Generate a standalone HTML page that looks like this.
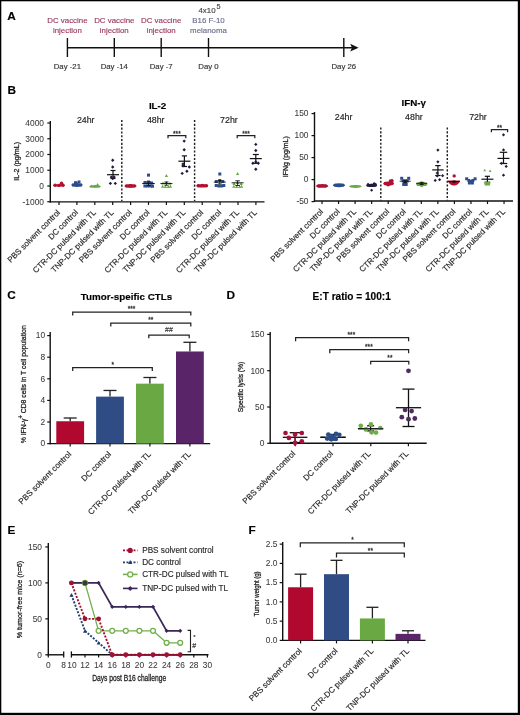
<!DOCTYPE html>
<html><head><meta charset="utf-8"><style>html,body{margin:0;padding:0;background:#fff;width:520px;height:715px;overflow:hidden}</style></head>
<body>
<svg width="520" height="715" viewBox="0 0 520 715" style="display:block;filter:blur(0.3px)">
<g font-family='"Liberation Sans", sans-serif'>
<rect x="0" y="0" width="520" height="715" fill="#000"/>
<rect x="1.3" y="1.3" width="516.5" height="711.5" fill="#fff"/>
<text x="7.30" y="20.40" font-size="11.8" text-anchor="start" fill="#000" font-weight="bold" stroke="#000" stroke-width="0.15" >A</text>
<text x="7.60" y="93.80" font-size="11.8" text-anchor="start" fill="#000" font-weight="bold" stroke="#000" stroke-width="0.15" >B</text>
<text x="7.30" y="299.40" font-size="11.8" text-anchor="start" fill="#000" font-weight="bold" stroke="#000" stroke-width="0.15" >C</text>
<text x="226.60" y="299.20" font-size="11.8" text-anchor="start" fill="#000" font-weight="bold" stroke="#000" stroke-width="0.15" >D</text>
<text x="7.60" y="533.80" font-size="11.8" text-anchor="start" fill="#000" font-weight="bold" stroke="#000" stroke-width="0.15" >E</text>
<text x="248.60" y="533.80" font-size="11.8" text-anchor="start" fill="#000" font-weight="bold" stroke="#000" stroke-width="0.15" >F</text>
<line x1="67.40" y1="47.70" x2="352.00" y2="47.70" stroke="#111" stroke-width="1.4" />
<path d="M350.2,43.8 L358.6,47.7 L350.2,51.6 L352,47.7Z" fill="#111"/>
<line x1="67.40" y1="38.00" x2="67.40" y2="57.00" stroke="#111" stroke-width="1.4" />
<text x="67.40" y="69.20" font-size="7.8" text-anchor="middle" fill="#333" font-weight="normal" stroke="#333" stroke-width="0.15" >Day -21</text>
<line x1="114.30" y1="38.00" x2="114.30" y2="57.00" stroke="#111" stroke-width="1.4" />
<text x="114.30" y="69.20" font-size="7.8" text-anchor="middle" fill="#333" font-weight="normal" stroke="#333" stroke-width="0.15" >Day -14</text>
<line x1="161.20" y1="38.00" x2="161.20" y2="57.00" stroke="#111" stroke-width="1.4" />
<text x="161.20" y="69.20" font-size="7.8" text-anchor="middle" fill="#333" font-weight="normal" stroke="#333" stroke-width="0.15" >Day -7</text>
<line x1="208.50" y1="38.00" x2="208.50" y2="57.00" stroke="#111" stroke-width="1.4" />
<text x="208.50" y="69.20" font-size="7.8" text-anchor="middle" fill="#333" font-weight="normal" stroke="#333" stroke-width="0.15" >Day 0</text>
<line x1="343.80" y1="38.00" x2="343.80" y2="57.00" stroke="#111" stroke-width="1.4" />
<text x="343.80" y="69.20" font-size="7.8" text-anchor="middle" fill="#333" font-weight="normal" stroke="#333" stroke-width="0.15" >Day 26</text>
<text x="67.40" y="23.00" font-size="7.9" text-anchor="middle" fill="#9c3d62" font-weight="normal" stroke="#9c3d62" stroke-width="0.15" >DC vaccine</text>
<text x="67.40" y="33.00" font-size="7.9" text-anchor="middle" fill="#9c3d62" font-weight="normal" stroke="#9c3d62" stroke-width="0.15" >injection</text>
<text x="114.30" y="23.00" font-size="7.9" text-anchor="middle" fill="#9c3d62" font-weight="normal" stroke="#9c3d62" stroke-width="0.15" >DC vaccine</text>
<text x="114.30" y="33.00" font-size="7.9" text-anchor="middle" fill="#9c3d62" font-weight="normal" stroke="#9c3d62" stroke-width="0.15" >injection</text>
<text x="161.20" y="23.00" font-size="7.9" text-anchor="middle" fill="#9c3d62" font-weight="normal" stroke="#9c3d62" stroke-width="0.15" >DC vaccine</text>
<text x="161.20" y="33.00" font-size="7.9" text-anchor="middle" fill="#9c3d62" font-weight="normal" stroke="#9c3d62" stroke-width="0.15" >injection</text>
<text x="207.00" y="13.00" font-size="7.9" text-anchor="middle" fill="#444" font-weight="normal" stroke="#444" stroke-width="0.15" >4x10</text>
<text x="218.50" y="9.20" font-size="7.2" text-anchor="middle" fill="#444" font-weight="normal" stroke="#444" stroke-width="0.15" >5</text>
<text x="208.50" y="23.00" font-size="7.9" text-anchor="middle" fill="#6a6f8e" font-weight="normal" stroke="#6a6f8e" stroke-width="0.15" >B16 F-10</text>
<text x="208.50" y="33.00" font-size="7.9" text-anchor="middle" fill="#6a6f8e" font-weight="normal" stroke="#6a6f8e" stroke-width="0.15" >melanoma</text>
<line x1="50.30" y1="121.00" x2="50.30" y2="202.50" stroke="#111" stroke-width="1.4" />
<line x1="49.70" y1="201.90" x2="264.50" y2="201.90" stroke="#111" stroke-width="1.4" />
<line x1="47.30" y1="123.00" x2="50.30" y2="123.00" stroke="#111" stroke-width="1.2" />
<text x="44.00" y="125.80" font-size="8.4" text-anchor="end" fill="#3a3a3a" font-weight="normal" stroke="#3a3a3a" stroke-width="0.05" >4000</text>
<line x1="47.30" y1="138.75" x2="50.30" y2="138.75" stroke="#111" stroke-width="1.2" />
<text x="44.00" y="141.55" font-size="8.4" text-anchor="end" fill="#3a3a3a" font-weight="normal" stroke="#3a3a3a" stroke-width="0.05" >3000</text>
<line x1="47.30" y1="154.50" x2="50.30" y2="154.50" stroke="#111" stroke-width="1.2" />
<text x="44.00" y="157.30" font-size="8.4" text-anchor="end" fill="#3a3a3a" font-weight="normal" stroke="#3a3a3a" stroke-width="0.05" >2000</text>
<line x1="47.30" y1="170.25" x2="50.30" y2="170.25" stroke="#111" stroke-width="1.2" />
<text x="44.00" y="173.05" font-size="8.4" text-anchor="end" fill="#3a3a3a" font-weight="normal" stroke="#3a3a3a" stroke-width="0.05" >1000</text>
<line x1="47.30" y1="186.00" x2="50.30" y2="186.00" stroke="#111" stroke-width="1.2" />
<text x="44.00" y="188.80" font-size="8.4" text-anchor="end" fill="#3a3a3a" font-weight="normal" stroke="#3a3a3a" stroke-width="0.05" >0</text>
<line x1="47.30" y1="201.75" x2="50.30" y2="201.75" stroke="#111" stroke-width="1.2" />
<text x="44.00" y="204.55" font-size="8.4" text-anchor="end" fill="#3a3a3a" font-weight="normal" stroke="#3a3a3a" stroke-width="0.05" >-1000</text>
<text transform="translate(19.00,161.40) rotate(-90)" font-size="7.6" text-anchor="middle" fill="#222" font-weight="normal" textLength="38.8" lengthAdjust="spacingAndGlyphs" stroke="#222" stroke-width="0.28">IL-2 (pg/mL)</text>
<text x="157.60" y="108.80" font-size="9.8" text-anchor="middle" fill="#000" font-weight="bold" stroke="#000" stroke-width="0.15" >IL-2</text>
<text x="85.70" y="122.90" font-size="8.8" text-anchor="middle" fill="#222" font-weight="normal" stroke="#222" stroke-width="0.15" >24hr</text>
<text x="155.70" y="122.90" font-size="8.8" text-anchor="middle" fill="#222" font-weight="normal" stroke="#222" stroke-width="0.15" >48hr</text>
<text x="228.90" y="122.90" font-size="8.8" text-anchor="middle" fill="#222" font-weight="normal" stroke="#222" stroke-width="0.15" >72hr</text>
<line x1="121.8" y1="120" x2="121.8" y2="201" stroke="#222" stroke-width="1.45" stroke-dasharray="2.1,1.7"/>
<line x1="194.6" y1="120" x2="194.6" y2="201" stroke="#222" stroke-width="1.45" stroke-dasharray="2.1,1.7"/>
<line x1="59.00" y1="201.90" x2="59.00" y2="204.90" stroke="#111" stroke-width="1.2" />
<line x1="76.90" y1="201.90" x2="76.90" y2="204.90" stroke="#111" stroke-width="1.2" />
<line x1="94.80" y1="201.90" x2="94.80" y2="204.90" stroke="#111" stroke-width="1.2" />
<line x1="112.70" y1="201.90" x2="112.70" y2="204.90" stroke="#111" stroke-width="1.2" />
<line x1="130.60" y1="201.90" x2="130.60" y2="204.90" stroke="#111" stroke-width="1.2" />
<line x1="148.50" y1="201.90" x2="148.50" y2="204.90" stroke="#111" stroke-width="1.2" />
<line x1="166.40" y1="201.90" x2="166.40" y2="204.90" stroke="#111" stroke-width="1.2" />
<line x1="184.30" y1="201.90" x2="184.30" y2="204.90" stroke="#111" stroke-width="1.2" />
<line x1="202.20" y1="201.90" x2="202.20" y2="204.90" stroke="#111" stroke-width="1.2" />
<line x1="220.10" y1="201.90" x2="220.10" y2="204.90" stroke="#111" stroke-width="1.2" />
<line x1="238.00" y1="201.90" x2="238.00" y2="204.90" stroke="#111" stroke-width="1.2" />
<line x1="255.90" y1="201.90" x2="255.90" y2="204.90" stroke="#111" stroke-width="1.2" />
<text transform="translate(60.60,213.10) rotate(-45)" font-size="8.1" text-anchor="end" fill="#222" font-weight="normal" stroke="#222" stroke-width="0.15">PBS solvent control</text>
<text transform="translate(78.50,213.10) rotate(-45)" font-size="8.1" text-anchor="end" fill="#222" font-weight="normal" stroke="#222" stroke-width="0.15">DC control</text>
<text transform="translate(96.40,213.10) rotate(-45)" font-size="8.1" text-anchor="end" fill="#222" font-weight="normal" stroke="#222" stroke-width="0.15">CTR-DC pulsed with TL</text>
<text transform="translate(114.30,213.10) rotate(-45)" font-size="8.1" text-anchor="end" fill="#222" font-weight="normal" stroke="#222" stroke-width="0.15">TNP-DC pulsed with TL</text>
<text transform="translate(132.20,213.10) rotate(-45)" font-size="8.1" text-anchor="end" fill="#222" font-weight="normal" stroke="#222" stroke-width="0.15">PBS solvent control</text>
<text transform="translate(150.10,213.10) rotate(-45)" font-size="8.1" text-anchor="end" fill="#222" font-weight="normal" stroke="#222" stroke-width="0.15">DC control</text>
<text transform="translate(168.00,213.10) rotate(-45)" font-size="8.1" text-anchor="end" fill="#222" font-weight="normal" stroke="#222" stroke-width="0.15">CTR-DC pulsed with TL</text>
<text transform="translate(185.90,213.10) rotate(-45)" font-size="8.1" text-anchor="end" fill="#222" font-weight="normal" stroke="#222" stroke-width="0.15">TNP-DC pulsed with TL</text>
<text transform="translate(203.80,213.10) rotate(-45)" font-size="8.1" text-anchor="end" fill="#222" font-weight="normal" stroke="#222" stroke-width="0.15">PBS solvent control</text>
<text transform="translate(221.70,213.10) rotate(-45)" font-size="8.1" text-anchor="end" fill="#222" font-weight="normal" stroke="#222" stroke-width="0.15">DC control</text>
<text transform="translate(239.60,213.10) rotate(-45)" font-size="8.1" text-anchor="end" fill="#222" font-weight="normal" stroke="#222" stroke-width="0.15">CTR-DC pulsed with TL</text>
<text transform="translate(257.50,213.10) rotate(-45)" font-size="8.1" text-anchor="end" fill="#222" font-weight="normal" stroke="#222" stroke-width="0.15">TNP-DC pulsed with TL</text>
<line x1="314.50" y1="112.00" x2="314.50" y2="201.60" stroke="#111" stroke-width="1.4" />
<line x1="313.90" y1="201.00" x2="513.00" y2="201.00" stroke="#111" stroke-width="1.4" />
<line x1="311.50" y1="113.60" x2="314.50" y2="113.60" stroke="#111" stroke-width="1.2" />
<text x="308.50" y="116.40" font-size="8.4" text-anchor="end" fill="#3a3a3a" font-weight="normal" stroke="#3a3a3a" stroke-width="0.05" >150</text>
<line x1="311.50" y1="135.60" x2="314.50" y2="135.60" stroke="#111" stroke-width="1.2" />
<text x="308.50" y="138.40" font-size="8.4" text-anchor="end" fill="#3a3a3a" font-weight="normal" stroke="#3a3a3a" stroke-width="0.05" >100</text>
<line x1="311.50" y1="157.60" x2="314.50" y2="157.60" stroke="#111" stroke-width="1.2" />
<text x="308.50" y="160.40" font-size="8.4" text-anchor="end" fill="#3a3a3a" font-weight="normal" stroke="#3a3a3a" stroke-width="0.05" >50</text>
<line x1="311.50" y1="179.60" x2="314.50" y2="179.60" stroke="#111" stroke-width="1.2" />
<text x="308.50" y="182.40" font-size="8.4" text-anchor="end" fill="#3a3a3a" font-weight="normal" stroke="#3a3a3a" stroke-width="0.05" >0</text>
<line x1="311.50" y1="201.60" x2="314.50" y2="201.60" stroke="#111" stroke-width="1.2" />
<text x="308.50" y="204.40" font-size="8.4" text-anchor="end" fill="#3a3a3a" font-weight="normal" stroke="#3a3a3a" stroke-width="0.05" >-50</text>
<text transform="translate(287.60,156.70) rotate(-90)" font-size="7.6" text-anchor="middle" fill="#222" font-weight="normal" textLength="41" lengthAdjust="spacingAndGlyphs" stroke="#222" stroke-width="0.28">IFNg (pg/mL)</text>
<text x="413.70" y="105.60" font-size="9.8" text-anchor="middle" fill="#000" font-weight="bold" stroke="#000" stroke-width="0.15" >IFN-γ</text>
<text x="343.60" y="119.60" font-size="8.8" text-anchor="middle" fill="#222" font-weight="normal" stroke="#222" stroke-width="0.15" >24hr</text>
<text x="413.90" y="119.60" font-size="8.8" text-anchor="middle" fill="#222" font-weight="normal" stroke="#222" stroke-width="0.15" >48hr</text>
<text x="478.00" y="119.60" font-size="8.8" text-anchor="middle" fill="#222" font-weight="normal" stroke="#222" stroke-width="0.15" >72hr</text>
<line x1="380.8" y1="127.5" x2="380.8" y2="200.5" stroke="#222" stroke-width="1.45" stroke-dasharray="2.1,1.7"/>
<line x1="447.3" y1="127.5" x2="447.3" y2="200.5" stroke="#222" stroke-width="1.45" stroke-dasharray="2.1,1.7"/>
<line x1="322.00" y1="201.00" x2="322.00" y2="204.00" stroke="#111" stroke-width="1.2" />
<line x1="338.55" y1="201.00" x2="338.55" y2="204.00" stroke="#111" stroke-width="1.2" />
<line x1="355.10" y1="201.00" x2="355.10" y2="204.00" stroke="#111" stroke-width="1.2" />
<line x1="371.65" y1="201.00" x2="371.65" y2="204.00" stroke="#111" stroke-width="1.2" />
<line x1="388.20" y1="201.00" x2="388.20" y2="204.00" stroke="#111" stroke-width="1.2" />
<line x1="404.75" y1="201.00" x2="404.75" y2="204.00" stroke="#111" stroke-width="1.2" />
<line x1="421.30" y1="201.00" x2="421.30" y2="204.00" stroke="#111" stroke-width="1.2" />
<line x1="437.85" y1="201.00" x2="437.85" y2="204.00" stroke="#111" stroke-width="1.2" />
<line x1="454.40" y1="201.00" x2="454.40" y2="204.00" stroke="#111" stroke-width="1.2" />
<line x1="470.95" y1="201.00" x2="470.95" y2="204.00" stroke="#111" stroke-width="1.2" />
<line x1="487.50" y1="201.00" x2="487.50" y2="204.00" stroke="#111" stroke-width="1.2" />
<line x1="504.05" y1="201.00" x2="504.05" y2="204.00" stroke="#111" stroke-width="1.2" />
<text transform="translate(323.60,212.20) rotate(-45)" font-size="8.1" text-anchor="end" fill="#222" font-weight="normal" stroke="#222" stroke-width="0.15">PBS solvent control</text>
<text transform="translate(340.15,212.20) rotate(-45)" font-size="8.1" text-anchor="end" fill="#222" font-weight="normal" stroke="#222" stroke-width="0.15">DC control</text>
<text transform="translate(356.70,212.20) rotate(-45)" font-size="8.1" text-anchor="end" fill="#222" font-weight="normal" stroke="#222" stroke-width="0.15">CTR-DC pulsed with TL</text>
<text transform="translate(373.25,212.20) rotate(-45)" font-size="8.1" text-anchor="end" fill="#222" font-weight="normal" stroke="#222" stroke-width="0.15">TNP-DC pulsed with TL</text>
<text transform="translate(389.80,212.20) rotate(-45)" font-size="8.1" text-anchor="end" fill="#222" font-weight="normal" stroke="#222" stroke-width="0.15">PBS solvent control</text>
<text transform="translate(406.35,212.20) rotate(-45)" font-size="8.1" text-anchor="end" fill="#222" font-weight="normal" stroke="#222" stroke-width="0.15">DC control</text>
<text transform="translate(422.90,212.20) rotate(-45)" font-size="8.1" text-anchor="end" fill="#222" font-weight="normal" stroke="#222" stroke-width="0.15">CTR-DC pulsed with TL</text>
<text transform="translate(439.45,212.20) rotate(-45)" font-size="8.1" text-anchor="end" fill="#222" font-weight="normal" stroke="#222" stroke-width="0.15">TNP-DC pulsed with TL</text>
<text transform="translate(456.00,212.20) rotate(-45)" font-size="8.1" text-anchor="end" fill="#222" font-weight="normal" stroke="#222" stroke-width="0.15">PBS solvent control</text>
<text transform="translate(472.55,212.20) rotate(-45)" font-size="8.1" text-anchor="end" fill="#222" font-weight="normal" stroke="#222" stroke-width="0.15">DC control</text>
<text transform="translate(489.10,212.20) rotate(-45)" font-size="8.1" text-anchor="end" fill="#222" font-weight="normal" stroke="#222" stroke-width="0.15">CTR-DC pulsed with TL</text>
<text transform="translate(505.65,212.20) rotate(-45)" font-size="8.1" text-anchor="end" fill="#222" font-weight="normal" stroke="#222" stroke-width="0.15">TNP-DC pulsed with TL</text>
<ellipse cx="59.00" cy="185.40" rx="5.8" ry="1.3" fill="#b3102f"/>
<circle cx="55.00" cy="185.20" r="1.7" fill="#b3102f" stroke="none" stroke-width="0"/>
<circle cx="63.00" cy="185.20" r="1.7" fill="#b3102f" stroke="none" stroke-width="0"/>
<circle cx="61.50" cy="183.20" r="1.7" fill="#b3102f" stroke="none" stroke-width="0"/>
<circle cx="59.00" cy="185.40" r="1.7" fill="#b3102f" stroke="none" stroke-width="0"/>
<ellipse cx="77.00" cy="185.00" rx="5.8" ry="1.6" fill="#2c4d8c"/>
<rect x="72.00" y="183.50" width="3.0" height="3.0" fill="#2c4d8c"/>
<rect x="79.00" y="183.50" width="3.0" height="3.0" fill="#2c4d8c"/>
<rect x="75.50" y="184.00" width="3.0" height="3.0" fill="#2c4d8c"/>
<rect x="74.00" y="181.20" width="3.0" height="3.0" fill="#2c4d8c"/>
<rect x="77.50" y="180.50" width="3.0" height="3.0" fill="#2c4d8c"/>
<rect x="75.50" y="182.50" width="3.0" height="3.0" fill="#2c4d8c"/>
<ellipse cx="95.00" cy="186.40" rx="5.8" ry="1.3" fill="#6aa84a"/>
<path d="M89.75,187.57 L93.25,187.57 L91.50,184.43Z" fill="#6aa84a"/>
<path d="M96.75,187.57 L100.25,187.57 L98.50,184.43Z" fill="#6aa84a"/>
<path d="M93.25,187.57 L96.75,187.57 L95.00,184.43Z" fill="#6aa84a"/>
<path d="M95.75,186.27 L99.25,186.27 L97.50,183.12Z" fill="#6aa84a"/>
<line x1="107.00" y1="174.70" x2="119.00" y2="174.70" stroke="#111" stroke-width="1.2" />
<line x1="113.00" y1="170.50" x2="113.00" y2="178.50" stroke="#111" stroke-width="1.2" />
<line x1="110.50" y1="170.50" x2="115.50" y2="170.50" stroke="#111" stroke-width="1.2" />
<line x1="110.50" y1="178.50" x2="115.50" y2="178.50" stroke="#111" stroke-width="1.2" />
<path d="M112.70,158.60 L114.40,160.30 L112.70,162.00 L111.00,160.30Z" fill="#241a3d"/>
<path d="M112.70,165.30 L114.40,167.00 L112.70,168.70 L111.00,167.00Z" fill="#241a3d"/>
<path d="M111.30,175.40 L113.00,177.10 L111.30,178.80 L109.60,177.10Z" fill="#241a3d"/>
<path d="M114.20,175.40 L115.90,177.10 L114.20,178.80 L112.50,177.10Z" fill="#241a3d"/>
<path d="M112.70,176.90 L114.40,178.60 L112.70,180.30 L111.00,178.60Z" fill="#241a3d"/>
<path d="M110.40,181.70 L112.10,183.40 L110.40,185.10 L108.70,183.40Z" fill="#241a3d"/>
<path d="M115.30,181.70 L117.00,183.40 L115.30,185.10 L113.60,183.40Z" fill="#241a3d"/>
<ellipse cx="130.50" cy="185.90" rx="6.0" ry="1.8" fill="#b3102f"/>
<circle cx="126.50" cy="185.90" r="1.7" fill="#b3102f" stroke="none" stroke-width="0"/>
<circle cx="134.50" cy="185.90" r="1.7" fill="#b3102f" stroke="none" stroke-width="0"/>
<circle cx="130.50" cy="185.90" r="1.7" fill="#b3102f" stroke="none" stroke-width="0"/>
<line x1="142.50" y1="183.50" x2="154.50" y2="183.50" stroke="#111" stroke-width="1.2" />
<line x1="148.50" y1="182.00" x2="148.50" y2="185.50" stroke="#111" stroke-width="1.2" />
<line x1="146.50" y1="182.00" x2="150.50" y2="182.00" stroke="#111" stroke-width="1.2" />
<line x1="146.50" y1="185.50" x2="150.50" y2="185.50" stroke="#111" stroke-width="1.2" />
<rect x="147.00" y="173.60" width="3.0" height="3.0" fill="#2c4d8c"/>
<rect x="143.50" y="181.00" width="3.0" height="3.0" fill="#2c4d8c"/>
<rect x="147.00" y="180.50" width="3.0" height="3.0" fill="#2c4d8c"/>
<rect x="150.00" y="181.50" width="3.0" height="3.0" fill="#2c4d8c"/>
<rect x="143.40" y="184.50" width="3.0" height="3.0" fill="#2c4d8c"/>
<rect x="146.00" y="184.50" width="3.0" height="3.0" fill="#2c4d8c"/>
<rect x="148.80" y="184.50" width="3.0" height="3.0" fill="#2c4d8c"/>
<rect x="151.00" y="184.70" width="3.0" height="3.0" fill="#2c4d8c"/>
<line x1="142.50" y1="183.50" x2="154.50" y2="183.50" stroke="#111" stroke-width="0.8" />
<line x1="148.50" y1="182.00" x2="148.50" y2="185.50" stroke="#111" stroke-width="0.8" />
<line x1="146.50" y1="182.00" x2="150.50" y2="182.00" stroke="#111" stroke-width="0.8" />
<line x1="146.50" y1="185.50" x2="150.50" y2="185.50" stroke="#111" stroke-width="0.8" />
<path d="M164.74,176.90 L168.06,176.90 L166.40,173.90Z" fill="#6aa84a"/>
<path d="M161.24,184.50 L164.56,184.50 L162.90,181.50Z" fill="#6aa84a"/>
<path d="M164.74,184.00 L168.06,184.00 L166.40,181.00Z" fill="#6aa84a"/>
<path d="M168.24,184.70 L171.56,184.70 L169.90,181.70Z" fill="#6aa84a"/>
<path d="M160.94,187.70 L164.26,187.70 L162.60,184.70Z" fill="#6aa84a"/>
<path d="M163.74,187.90 L167.06,187.90 L165.40,184.90Z" fill="#6aa84a"/>
<path d="M166.74,187.90 L170.06,187.90 L168.40,184.90Z" fill="#6aa84a"/>
<path d="M168.74,187.70 L172.06,187.70 L170.40,184.70Z" fill="#6aa84a"/>
<line x1="160.40" y1="183.50" x2="172.40" y2="183.50" stroke="#111" stroke-width="0.9" />
<line x1="166.40" y1="182.00" x2="166.40" y2="185.20" stroke="#111" stroke-width="0.9" />
<line x1="164.40" y1="182.00" x2="168.40" y2="182.00" stroke="#111" stroke-width="0.9" />
<line x1="164.40" y1="185.20" x2="168.40" y2="185.20" stroke="#111" stroke-width="0.9" />
<line x1="178.40" y1="161.20" x2="190.40" y2="161.20" stroke="#111" stroke-width="1.2" />
<line x1="184.40" y1="155.90" x2="184.40" y2="166.50" stroke="#111" stroke-width="1.2" />
<line x1="181.80" y1="155.90" x2="187.00" y2="155.90" stroke="#111" stroke-width="1.2" />
<line x1="181.80" y1="166.50" x2="187.00" y2="166.50" stroke="#111" stroke-width="1.2" />
<path d="M184.20,139.40 L185.90,141.10 L184.20,142.80 L182.50,141.10Z" fill="#241a3d"/>
<path d="M184.20,148.10 L185.90,149.80 L184.20,151.50 L182.50,149.80Z" fill="#241a3d"/>
<path d="M183.00,162.20 L184.70,163.90 L183.00,165.60 L181.30,163.90Z" fill="#241a3d"/>
<path d="M183.00,164.00 L184.70,165.70 L183.00,167.40 L181.30,165.70Z" fill="#241a3d"/>
<path d="M189.30,165.30 L191.00,167.00 L189.30,168.70 L187.60,167.00Z" fill="#241a3d"/>
<path d="M182.20,171.70 L183.90,173.40 L182.20,175.10 L180.50,173.40Z" fill="#241a3d"/>
<path d="M186.90,169.60 L188.60,171.30 L186.90,173.00 L185.20,171.30Z" fill="#241a3d"/>
<ellipse cx="202.30" cy="185.80" rx="6.0" ry="1.8" fill="#b3102f"/>
<circle cx="198.30" cy="185.80" r="1.7" fill="#b3102f" stroke="none" stroke-width="0"/>
<circle cx="206.30" cy="185.80" r="1.7" fill="#b3102f" stroke="none" stroke-width="0"/>
<circle cx="202.30" cy="185.40" r="1.7" fill="#b3102f" stroke="none" stroke-width="0"/>
<rect x="218.30" y="172.50" width="3.0" height="3.0" fill="#2c4d8c"/>
<rect x="214.80" y="180.00" width="3.0" height="3.0" fill="#2c4d8c"/>
<rect x="218.30" y="179.00" width="3.0" height="3.0" fill="#2c4d8c"/>
<rect x="221.30" y="180.00" width="3.0" height="3.0" fill="#2c4d8c"/>
<rect x="214.70" y="184.00" width="3.0" height="3.0" fill="#2c4d8c"/>
<rect x="217.30" y="184.50" width="3.0" height="3.0" fill="#2c4d8c"/>
<rect x="220.10" y="184.50" width="3.0" height="3.0" fill="#2c4d8c"/>
<rect x="222.30" y="184.00" width="3.0" height="3.0" fill="#2c4d8c"/>
<line x1="213.80" y1="182.10" x2="225.80" y2="182.10" stroke="#111" stroke-width="0.9" />
<line x1="219.80" y1="180.50" x2="219.80" y2="184.00" stroke="#111" stroke-width="0.9" />
<line x1="217.80" y1="180.50" x2="221.80" y2="180.50" stroke="#111" stroke-width="0.9" />
<line x1="217.80" y1="184.00" x2="221.80" y2="184.00" stroke="#111" stroke-width="0.9" />
<path d="M235.94,174.90 L239.26,174.90 L237.60,171.90Z" fill="#6aa84a"/>
<path d="M232.44,185.00 L235.76,185.00 L234.10,182.00Z" fill="#6aa84a"/>
<path d="M235.94,184.00 L239.26,184.00 L237.60,181.00Z" fill="#6aa84a"/>
<path d="M239.44,185.00 L242.76,185.00 L241.10,182.00Z" fill="#6aa84a"/>
<path d="M232.14,187.80 L235.46,187.80 L233.80,184.80Z" fill="#6aa84a"/>
<path d="M234.94,187.90 L238.26,187.90 L236.60,184.90Z" fill="#6aa84a"/>
<path d="M237.94,187.90 L241.26,187.90 L239.60,184.90Z" fill="#6aa84a"/>
<path d="M239.94,187.80 L243.26,187.80 L241.60,184.80Z" fill="#6aa84a"/>
<line x1="231.60" y1="182.80" x2="243.60" y2="182.80" stroke="#111" stroke-width="0.9" />
<line x1="237.60" y1="180.80" x2="237.60" y2="185.50" stroke="#111" stroke-width="0.9" />
<line x1="235.35" y1="180.80" x2="239.85" y2="180.80" stroke="#111" stroke-width="0.9" />
<line x1="235.35" y1="185.50" x2="239.85" y2="185.50" stroke="#111" stroke-width="0.9" />
<line x1="249.80" y1="158.60" x2="261.80" y2="158.60" stroke="#111" stroke-width="1.2" />
<line x1="255.80" y1="154.50" x2="255.80" y2="163.30" stroke="#111" stroke-width="1.2" />
<line x1="252.80" y1="154.50" x2="258.80" y2="154.50" stroke="#111" stroke-width="1.2" />
<line x1="252.80" y1="163.30" x2="258.80" y2="163.30" stroke="#111" stroke-width="1.2" />
<path d="M255.80,142.70 L257.50,144.40 L255.80,146.10 L254.10,144.40Z" fill="#241a3d"/>
<path d="M255.80,148.80 L257.50,150.50 L255.80,152.20 L254.10,150.50Z" fill="#241a3d"/>
<path d="M252.90,161.60 L254.60,163.30 L252.90,165.00 L251.20,163.30Z" fill="#241a3d"/>
<path d="M258.30,161.60 L260.00,163.30 L258.30,165.00 L256.60,163.30Z" fill="#241a3d"/>
<path d="M255.80,160.20 L257.50,161.90 L255.80,163.60 L254.10,161.90Z" fill="#241a3d"/>
<path d="M255.80,167.60 L257.50,169.30 L255.80,171.00 L254.10,169.30Z" fill="#241a3d"/>
<path d="M168.00,138.20 V135.60 H185.80 V138.20" fill="none" stroke="#222" stroke-width="1.25"/>
<text x="176.90" y="135.80" font-size="6.5" text-anchor="middle" fill="#333" font-weight="normal" stroke="#333" stroke-width="0.3" >***</text>
<path d="M237.20,138.20 V135.60 H254.80 V138.20" fill="none" stroke="#222" stroke-width="1.25"/>
<text x="246.00" y="135.80" font-size="6.5" text-anchor="middle" fill="#333" font-weight="normal" stroke="#333" stroke-width="0.3" >***</text>
<ellipse cx="322.10" cy="185.90" rx="6.1" ry="1.8" fill="#b3102f"/>
<circle cx="318.60" cy="185.90" r="1.7" fill="#b3102f" stroke="none" stroke-width="0"/>
<circle cx="325.60" cy="185.90" r="1.7" fill="#b3102f" stroke="none" stroke-width="0"/>
<ellipse cx="339.00" cy="185.20" rx="6.1" ry="2.0" fill="#2c4d8c"/>
<rect x="334.15" y="183.85" width="2.7" height="2.7" fill="#2c4d8c"/>
<rect x="341.15" y="183.85" width="2.7" height="2.7" fill="#2c4d8c"/>
<ellipse cx="355.40" cy="186.40" rx="6.2" ry="1.5" fill="#6aa84a"/>
<ellipse cx="371.60" cy="185.40" rx="5.5" ry="1.7" fill="#241a3d"/>
<path d="M368.10,182.67 L369.63,184.20 L368.10,185.73 L366.57,184.20Z" fill="#241a3d"/>
<path d="M371.10,183.47 L372.63,185.00 L371.10,186.53 L369.57,185.00Z" fill="#241a3d"/>
<path d="M374.10,181.97 L375.63,183.50 L374.10,185.03 L372.57,183.50Z" fill="#241a3d"/>
<path d="M375.60,182.67 L377.13,184.20 L375.60,185.73 L374.07,184.20Z" fill="#241a3d"/>
<path d="M371.60,188.77 L373.13,190.30 L371.60,191.83 L370.07,190.30Z" fill="#241a3d"/>
<ellipse cx="388.60" cy="183.60" rx="5.2" ry="2.0" fill="#b3102f"/>
<circle cx="385.40" cy="183.50" r="1.7" fill="#b3102f" stroke="none" stroke-width="0"/>
<circle cx="388.60" cy="183.80" r="1.7" fill="#b3102f" stroke="none" stroke-width="0"/>
<circle cx="391.80" cy="183.30" r="1.7" fill="#b3102f" stroke="none" stroke-width="0"/>
<circle cx="390.40" cy="181.00" r="1.7" fill="#b3102f" stroke="none" stroke-width="0"/>
<circle cx="392.00" cy="180.80" r="1.7" fill="#b3102f" stroke="none" stroke-width="0"/>
<circle cx="388.10" cy="184.80" r="1.7" fill="#b3102f" stroke="none" stroke-width="0"/>
<rect x="400.20" y="176.80" width="3.0" height="3.0" fill="#2c4d8c"/>
<rect x="407.20" y="176.80" width="3.0" height="3.0" fill="#2c4d8c"/>
<rect x="401.70" y="179.50" width="3.0" height="3.0" fill="#2c4d8c"/>
<rect x="405.70" y="179.50" width="3.0" height="3.0" fill="#2c4d8c"/>
<rect x="403.70" y="180.10" width="3.0" height="3.0" fill="#2c4d8c"/>
<rect x="402.20" y="183.00" width="3.0" height="3.0" fill="#2c4d8c"/>
<rect x="404.70" y="183.00" width="3.0" height="3.0" fill="#2c4d8c"/>
<line x1="399.70" y1="181.20" x2="410.70" y2="181.20" stroke="#111" stroke-width="0.9" />
<line x1="405.20" y1="180.00" x2="405.20" y2="182.60" stroke="#111" stroke-width="0.9" />
<line x1="403.20" y1="180.00" x2="407.20" y2="180.00" stroke="#111" stroke-width="0.9" />
<line x1="403.20" y1="182.60" x2="407.20" y2="182.60" stroke="#111" stroke-width="0.9" />
<ellipse cx="421.70" cy="184.00" rx="5.8" ry="2.0" fill="#6aa84a"/>
<path d="M416.62,185.92 L419.77,185.92 L418.20,183.08Z" fill="#6aa84a"/>
<path d="M420.12,183.92 L423.27,183.92 L421.70,181.08Z" fill="#6aa84a"/>
<path d="M423.62,185.92 L426.77,185.92 L425.20,183.08Z" fill="#6aa84a"/>
<path d="M420.12,186.92 L423.27,186.92 L421.70,184.08Z" fill="#6aa84a"/>
<line x1="416.20" y1="183.30" x2="427.20" y2="183.30" stroke="#111" stroke-width="0.9" />
<line x1="421.70" y1="182.30" x2="421.70" y2="184.50" stroke="#111" stroke-width="0.9" />
<line x1="419.70" y1="182.30" x2="423.70" y2="182.30" stroke="#111" stroke-width="0.9" />
<line x1="419.70" y1="184.50" x2="423.70" y2="184.50" stroke="#111" stroke-width="0.9" />
<line x1="432.20" y1="169.90" x2="443.60" y2="169.90" stroke="#111" stroke-width="1.2" />
<line x1="437.90" y1="165.60" x2="437.90" y2="175.50" stroke="#111" stroke-width="1.2" />
<line x1="435.20" y1="165.60" x2="440.60" y2="165.60" stroke="#111" stroke-width="1.2" />
<line x1="435.20" y1="175.50" x2="440.60" y2="175.50" stroke="#111" stroke-width="1.2" />
<path d="M437.90,148.48 L439.51,150.10 L437.90,151.72 L436.28,150.10Z" fill="#241a3d"/>
<path d="M437.90,160.19 L439.51,161.80 L437.90,163.42 L436.28,161.80Z" fill="#241a3d"/>
<path d="M437.20,171.38 L438.81,173.00 L437.20,174.62 L435.58,173.00Z" fill="#241a3d"/>
<path d="M437.20,174.38 L438.81,176.00 L437.20,177.62 L435.58,176.00Z" fill="#241a3d"/>
<path d="M442.60,174.08 L444.22,175.70 L442.60,177.31 L440.99,175.70Z" fill="#241a3d"/>
<path d="M435.20,178.78 L436.81,180.40 L435.20,182.02 L433.58,180.40Z" fill="#241a3d"/>
<path d="M439.60,178.08 L441.22,179.70 L439.60,181.31 L437.99,179.70Z" fill="#241a3d"/>
<circle cx="454.20" cy="175.90" r="1.7" fill="#b3102f" stroke="none" stroke-width="0"/>
<path d="M447.8,180.6 L460,180.6 Q458.5,185.6 454,185.6 Q449.5,185.6 447.8,180.6Z" fill="#b3102f"/>
<line x1="448.00" y1="181.60" x2="460.00" y2="181.60" stroke="#111" stroke-width="1.0" />
<line x1="454.00" y1="181.00" x2="454.00" y2="182.20" stroke="#111" stroke-width="1.0" />
<line x1="452.50" y1="181.00" x2="455.50" y2="181.00" stroke="#111" stroke-width="1.0" />
<line x1="452.50" y1="182.20" x2="455.50" y2="182.20" stroke="#111" stroke-width="1.0" />
<rect x="465.20" y="177.30" width="3.0" height="3.0" fill="#2c4d8c"/>
<rect x="473.60" y="177.30" width="3.0" height="3.0" fill="#2c4d8c"/>
<rect x="467.40" y="179.00" width="3.0" height="3.0" fill="#2c4d8c"/>
<rect x="471.40" y="179.00" width="3.0" height="3.0" fill="#2c4d8c"/>
<rect x="469.40" y="180.00" width="3.0" height="3.0" fill="#2c4d8c"/>
<rect x="467.90" y="181.50" width="3.0" height="3.0" fill="#2c4d8c"/>
<rect x="470.90" y="181.50" width="3.0" height="3.0" fill="#2c4d8c"/>
<line x1="481.40" y1="179.20" x2="493.40" y2="179.20" stroke="#111" stroke-width="1.2" />
<line x1="487.40" y1="176.30" x2="487.40" y2="182.30" stroke="#111" stroke-width="1.2" />
<line x1="484.80" y1="176.30" x2="490.00" y2="176.30" stroke="#111" stroke-width="1.2" />
<line x1="484.80" y1="182.30" x2="490.00" y2="182.30" stroke="#111" stroke-width="1.2" />
<path d="M483.30,171.36 L486.10,171.36 L484.70,168.84Z" fill="#6aa84a"/>
<path d="M488.70,171.96 L491.50,171.96 L490.10,169.44Z" fill="#6aa84a"/>
<path d="M484.0,181.8 H490.6 L489.8,185.6 H484.8Z" fill="#6aa84a"/>
<line x1="497.50" y1="158.40" x2="509.50" y2="158.40" stroke="#111" stroke-width="1.2" />
<line x1="503.50" y1="152.30" x2="503.50" y2="163.50" stroke="#111" stroke-width="1.2" />
<line x1="499.75" y1="152.30" x2="507.25" y2="152.30" stroke="#111" stroke-width="1.2" />
<line x1="499.75" y1="163.50" x2="507.25" y2="163.50" stroke="#111" stroke-width="1.2" />
<path d="M503.50,133.19 L505.12,134.80 L503.50,136.42 L501.88,134.80Z" fill="#241a3d"/>
<path d="M503.50,148.28 L505.12,149.90 L503.50,151.52 L501.88,149.90Z" fill="#241a3d"/>
<path d="M501.50,161.69 L503.12,163.30 L501.50,164.92 L499.88,163.30Z" fill="#241a3d"/>
<path d="M506.20,164.78 L507.81,166.40 L506.20,168.02 L504.58,166.40Z" fill="#241a3d"/>
<path d="M503.50,173.58 L505.12,175.20 L503.50,176.81 L501.88,175.20Z" fill="#241a3d"/>
<path d="M491.40,132.30 V129.70 H507.60 V132.30" fill="none" stroke="#222" stroke-width="1.25"/>
<text x="499.50" y="129.90" font-size="6.5" text-anchor="middle" fill="#333" font-weight="normal" stroke="#333" stroke-width="0.3" >**</text>
<line x1="50.20" y1="332.00" x2="50.20" y2="444.20" stroke="#111" stroke-width="1.4" />
<line x1="49.60" y1="443.60" x2="210.20" y2="443.60" stroke="#111" stroke-width="1.4" />
<line x1="47.20" y1="443.60" x2="50.20" y2="443.60" stroke="#111" stroke-width="1.2" />
<text x="45.20" y="446.40" font-size="8.4" text-anchor="end" fill="#3a3a3a" font-weight="normal" stroke="#3a3a3a" stroke-width="0.05" >0</text>
<line x1="47.20" y1="422.00" x2="50.20" y2="422.00" stroke="#111" stroke-width="1.2" />
<text x="45.20" y="424.80" font-size="8.4" text-anchor="end" fill="#3a3a3a" font-weight="normal" stroke="#3a3a3a" stroke-width="0.05" >2</text>
<line x1="47.20" y1="400.40" x2="50.20" y2="400.40" stroke="#111" stroke-width="1.2" />
<text x="45.20" y="403.20" font-size="8.4" text-anchor="end" fill="#3a3a3a" font-weight="normal" stroke="#3a3a3a" stroke-width="0.05" >4</text>
<line x1="47.20" y1="378.80" x2="50.20" y2="378.80" stroke="#111" stroke-width="1.2" />
<text x="45.20" y="381.60" font-size="8.4" text-anchor="end" fill="#3a3a3a" font-weight="normal" stroke="#3a3a3a" stroke-width="0.05" >6</text>
<line x1="47.20" y1="357.20" x2="50.20" y2="357.20" stroke="#111" stroke-width="1.2" />
<text x="45.20" y="360.00" font-size="8.4" text-anchor="end" fill="#3a3a3a" font-weight="normal" stroke="#3a3a3a" stroke-width="0.05" >8</text>
<line x1="47.20" y1="335.60" x2="50.20" y2="335.60" stroke="#111" stroke-width="1.2" />
<text x="45.20" y="338.40" font-size="8.4" text-anchor="end" fill="#3a3a3a" font-weight="normal" stroke="#3a3a3a" stroke-width="0.05" >10</text>
<text transform="translate(26.40,384.30) rotate(-90)" font-size="8.0" text-anchor="middle" fill="#222" font-weight="normal" textLength="118" lengthAdjust="spacingAndGlyphs" stroke="#222" stroke-width="0.28">% IFN-γ<tspan dy="-3.6" font-size="6.8">+</tspan><tspan dy="3.6">  CD8 cells in T cell population</tspan></text>
<line x1="70.20" y1="418.00" x2="70.20" y2="421.24" stroke="#222" stroke-width="1.3" />
<line x1="63.70" y1="418.00" x2="76.70" y2="418.00" stroke="#222" stroke-width="1.3" />
<rect x="56.30" y="421.24" width="27.8" height="22.36" fill="#b0082e"/>
<line x1="70.20" y1="443.60" x2="70.20" y2="446.60" stroke="#111" stroke-width="1.2" />
<line x1="110.00" y1="390.46" x2="110.00" y2="396.62" stroke="#222" stroke-width="1.3" />
<line x1="103.50" y1="390.46" x2="116.50" y2="390.46" stroke="#222" stroke-width="1.3" />
<rect x="96.10" y="396.62" width="27.8" height="46.98" fill="#2f4c84"/>
<line x1="110.00" y1="443.60" x2="110.00" y2="446.60" stroke="#111" stroke-width="1.2" />
<line x1="149.90" y1="377.50" x2="149.90" y2="383.66" stroke="#222" stroke-width="1.3" />
<line x1="143.40" y1="377.50" x2="156.40" y2="377.50" stroke="#222" stroke-width="1.3" />
<rect x="136.00" y="383.66" width="27.8" height="59.94" fill="#6aa843"/>
<line x1="149.90" y1="443.60" x2="149.90" y2="446.60" stroke="#111" stroke-width="1.2" />
<line x1="189.90" y1="342.30" x2="189.90" y2="351.48" stroke="#222" stroke-width="1.3" />
<line x1="183.40" y1="342.30" x2="196.40" y2="342.30" stroke="#222" stroke-width="1.3" />
<rect x="176.00" y="351.48" width="27.8" height="92.12" fill="#5a2568"/>
<line x1="189.90" y1="443.60" x2="189.90" y2="446.60" stroke="#111" stroke-width="1.2" />
<text x="126.50" y="300.10" font-size="9.8" text-anchor="middle" fill="#000" font-weight="bold" stroke="#000" stroke-width="0.15" >Tumor-speific CTLs</text>
<path d="M72.70,315.60 V312.20 H190.80 V315.60" fill="none" stroke="#222" stroke-width="1.25"/>
<text x="131.50" y="310.70" font-size="6.5" text-anchor="middle" fill="#333" font-weight="normal" stroke="#333" stroke-width="0.3" >***</text>
<path d="M110.80,326.40 V323.00 H190.80 V326.40" fill="none" stroke="#222" stroke-width="1.25"/>
<text x="150.80" y="321.50" font-size="6.5" text-anchor="middle" fill="#333" font-weight="normal" stroke="#333" stroke-width="0.3" >**</text>
<path d="M148.80,338.20 V335.00 H189.20 V338.20" fill="none" stroke="#222" stroke-width="1.25"/>
<text x="169.00" y="332.20" font-size="7.0" text-anchor="middle" fill="#333" font-weight="normal" stroke="#333" stroke-width="0.15" >##</text>
<path d="M72.70,371.10 V367.70 H152.30 V371.10" fill="none" stroke="#222" stroke-width="1.25"/>
<text x="112.70" y="366.50" font-size="6.5" text-anchor="middle" fill="#333" font-weight="normal" stroke="#333" stroke-width="0.3" >*</text>
<text transform="translate(71.80,454.80) rotate(-45)" font-size="8.1" text-anchor="end" fill="#222" font-weight="normal" stroke="#222" stroke-width="0.15">PBS solvent control</text>
<text transform="translate(111.60,454.80) rotate(-45)" font-size="8.1" text-anchor="end" fill="#222" font-weight="normal" stroke="#222" stroke-width="0.15">DC control</text>
<text transform="translate(151.50,454.80) rotate(-45)" font-size="8.1" text-anchor="end" fill="#222" font-weight="normal" stroke="#222" stroke-width="0.15">CTR-DC pulsed with TL</text>
<text transform="translate(191.50,454.80) rotate(-45)" font-size="8.1" text-anchor="end" fill="#222" font-weight="normal" stroke="#222" stroke-width="0.15">TNP-DC pulsed with TL</text>
<line x1="270.20" y1="332.00" x2="270.20" y2="443.90" stroke="#111" stroke-width="1.4" />
<line x1="269.60" y1="443.30" x2="426.70" y2="443.30" stroke="#111" stroke-width="1.4" />
<line x1="267.20" y1="443.30" x2="270.20" y2="443.30" stroke="#111" stroke-width="1.2" />
<text x="264.40" y="446.10" font-size="8.4" text-anchor="end" fill="#3a3a3a" font-weight="normal" stroke="#3a3a3a" stroke-width="0.05" >0</text>
<line x1="267.20" y1="407.00" x2="270.20" y2="407.00" stroke="#111" stroke-width="1.2" />
<text x="264.40" y="409.80" font-size="8.4" text-anchor="end" fill="#3a3a3a" font-weight="normal" stroke="#3a3a3a" stroke-width="0.05" >50</text>
<line x1="267.20" y1="370.70" x2="270.20" y2="370.70" stroke="#111" stroke-width="1.2" />
<text x="264.40" y="373.50" font-size="8.4" text-anchor="end" fill="#3a3a3a" font-weight="normal" stroke="#3a3a3a" stroke-width="0.05" >100</text>
<line x1="267.20" y1="334.40" x2="270.20" y2="334.40" stroke="#111" stroke-width="1.2" />
<text x="264.40" y="337.20" font-size="8.4" text-anchor="end" fill="#3a3a3a" font-weight="normal" stroke="#3a3a3a" stroke-width="0.05" >150</text>
<text transform="translate(242.50,387.00) rotate(-90)" font-size="7.6" text-anchor="middle" fill="#222" font-weight="normal" textLength="50.5" lengthAdjust="spacingAndGlyphs" stroke="#222" stroke-width="0.28">Specific lysis (%)</text>
<text x="351.70" y="300.00" font-size="10.1" text-anchor="middle" fill="#000" font-weight="bold" stroke="#000" stroke-width="0.15" >E:T ratio = 100:1</text>
<line x1="295.30" y1="443.30" x2="295.30" y2="446.30" stroke="#111" stroke-width="1.2" />
<line x1="333.00" y1="443.30" x2="333.00" y2="446.30" stroke="#111" stroke-width="1.2" />
<line x1="370.80" y1="443.30" x2="370.80" y2="446.30" stroke="#111" stroke-width="1.2" />
<line x1="408.40" y1="443.30" x2="408.40" y2="446.30" stroke="#111" stroke-width="1.2" />
<line x1="282.80" y1="437.30" x2="307.40" y2="437.30" stroke="#111" stroke-width="1.3" />
<line x1="295.10" y1="432.70" x2="295.10" y2="442.50" stroke="#111" stroke-width="1.3" />
<line x1="289.70" y1="432.70" x2="300.50" y2="432.70" stroke="#111" stroke-width="1.3" />
<line x1="289.70" y1="442.50" x2="300.50" y2="442.50" stroke="#111" stroke-width="1.3" />
<circle cx="285.50" cy="433.00" r="2.35" fill="#a8123a" stroke="none" stroke-width="0"/>
<circle cx="301.80" cy="433.00" r="2.35" fill="#a8123a" stroke="none" stroke-width="0"/>
<circle cx="288.90" cy="437.90" r="2.35" fill="#a8123a" stroke="none" stroke-width="0"/>
<circle cx="295.10" cy="434.40" r="2.35" fill="#a8123a" stroke="none" stroke-width="0"/>
<circle cx="295.10" cy="442.80" r="2.35" fill="#a8123a" stroke="none" stroke-width="0"/>
<circle cx="301.80" cy="441.30" r="2.35" fill="#a8123a" stroke="none" stroke-width="0"/>
<line x1="295.10" y1="432.70" x2="295.10" y2="446.00" stroke="#a8123a" stroke-width="1.3" />
<line x1="320.40" y1="437.30" x2="345.60" y2="437.30" stroke="#111" stroke-width="1.3" />
<line x1="333.00" y1="434.50" x2="333.00" y2="440.00" stroke="#111" stroke-width="1.3" />
<line x1="329.00" y1="434.50" x2="337.00" y2="434.50" stroke="#111" stroke-width="1.3" />
<line x1="329.00" y1="440.00" x2="337.00" y2="440.00" stroke="#111" stroke-width="1.3" />
<circle cx="328.30" cy="434.50" r="2.35" fill="#2e4d86" stroke="none" stroke-width="0"/>
<circle cx="331.20" cy="436.20" r="2.35" fill="#2e4d86" stroke="none" stroke-width="0"/>
<circle cx="336.00" cy="433.80" r="2.35" fill="#2e4d86" stroke="none" stroke-width="0"/>
<circle cx="339.30" cy="434.80" r="2.35" fill="#2e4d86" stroke="none" stroke-width="0"/>
<circle cx="327.20" cy="438.60" r="2.35" fill="#2e4d86" stroke="none" stroke-width="0"/>
<circle cx="331.30" cy="439.30" r="2.35" fill="#2e4d86" stroke="none" stroke-width="0"/>
<circle cx="335.80" cy="438.90" r="2.35" fill="#2e4d86" stroke="none" stroke-width="0"/>
<circle cx="333.50" cy="437.20" r="2.35" fill="#2e4d86" stroke="none" stroke-width="0"/>
<line x1="320.40" y1="437.30" x2="325.00" y2="437.30" stroke="#111" stroke-width="1.3" />
<line x1="341.50" y1="437.30" x2="345.60" y2="437.30" stroke="#111" stroke-width="1.3" />
<line x1="357.95" y1="428.70" x2="383.25" y2="428.70" stroke="#111" stroke-width="1.3" />
<line x1="370.60" y1="425.80" x2="370.60" y2="430.90" stroke="#111" stroke-width="1.3" />
<line x1="367.10" y1="425.80" x2="374.10" y2="425.80" stroke="#111" stroke-width="1.3" />
<line x1="367.10" y1="430.90" x2="374.10" y2="430.90" stroke="#111" stroke-width="1.3" />
<circle cx="360.80" cy="425.80" r="2.35" fill="#6cb046" stroke="none" stroke-width="0"/>
<circle cx="370.90" cy="424.40" r="2.35" fill="#6cb046" stroke="none" stroke-width="0"/>
<circle cx="380.30" cy="428.00" r="2.35" fill="#6cb046" stroke="none" stroke-width="0"/>
<circle cx="365.90" cy="429.40" r="2.35" fill="#6cb046" stroke="none" stroke-width="0"/>
<circle cx="371.60" cy="432.30" r="2.35" fill="#6cb046" stroke="none" stroke-width="0"/>
<circle cx="376.00" cy="432.60" r="2.35" fill="#6cb046" stroke="none" stroke-width="0"/>
<line x1="357.90" y1="428.70" x2="383.20" y2="428.70" stroke="#222" stroke-width="1.1" />
<line x1="395.90" y1="407.70" x2="421.10" y2="407.70" stroke="#111" stroke-width="1.3" />
<line x1="408.50" y1="389.10" x2="408.50" y2="426.50" stroke="#111" stroke-width="1.3" />
<line x1="402.50" y1="389.10" x2="414.50" y2="389.10" stroke="#111" stroke-width="1.3" />
<line x1="402.50" y1="426.50" x2="414.50" y2="426.50" stroke="#111" stroke-width="1.3" />
<circle cx="408.50" cy="370.80" r="2.4" fill="#4f2a63" stroke="none" stroke-width="0"/>
<circle cx="405.10" cy="409.90" r="2.4" fill="#4f2a63" stroke="none" stroke-width="0"/>
<circle cx="411.60" cy="411.10" r="2.4" fill="#4f2a63" stroke="none" stroke-width="0"/>
<circle cx="401.80" cy="417.20" r="2.4" fill="#4f2a63" stroke="none" stroke-width="0"/>
<circle cx="408.50" cy="419.20" r="2.4" fill="#4f2a63" stroke="none" stroke-width="0"/>
<circle cx="414.80" cy="418.50" r="2.4" fill="#4f2a63" stroke="none" stroke-width="0"/>
<path d="M295.60,341.20 V337.60 H408.60 V341.20" fill="none" stroke="#222" stroke-width="1.25"/>
<text x="351.40" y="336.50" font-size="6.5" text-anchor="middle" fill="#333" font-weight="normal" stroke="#333" stroke-width="0.3" >***</text>
<path d="M329.80,353.30 V349.70 H408.60 V353.30" fill="none" stroke="#222" stroke-width="1.25"/>
<text x="368.90" y="348.60" font-size="6.5" text-anchor="middle" fill="#333" font-weight="normal" stroke="#333" stroke-width="0.3" >***</text>
<path d="M370.70,364.60 V361.40 H408.80 V364.60" fill="none" stroke="#222" stroke-width="1.25"/>
<text x="389.90" y="360.20" font-size="6.5" text-anchor="middle" fill="#333" font-weight="normal" stroke="#333" stroke-width="0.3" >**</text>
<text transform="translate(295.80,454.30) rotate(-45)" font-size="8.1" text-anchor="end" fill="#222" font-weight="normal" stroke="#222" stroke-width="0.15">PBS solvent control</text>
<text transform="translate(333.50,454.30) rotate(-45)" font-size="8.1" text-anchor="end" fill="#222" font-weight="normal" stroke="#222" stroke-width="0.15">DC control</text>
<text transform="translate(371.30,454.30) rotate(-45)" font-size="8.1" text-anchor="end" fill="#222" font-weight="normal" stroke="#222" stroke-width="0.15">CTR-DC pulsed with TL</text>
<text transform="translate(408.90,454.30) rotate(-45)" font-size="8.1" text-anchor="end" fill="#222" font-weight="normal" stroke="#222" stroke-width="0.15">TNP-DC pulsed with TL</text>
<line x1="48.30" y1="543.00" x2="48.30" y2="655.40" stroke="#111" stroke-width="1.4" />
<line x1="47.70" y1="654.80" x2="63.70" y2="654.80" stroke="#111" stroke-width="1.4" />
<line x1="71.40" y1="654.80" x2="208.50" y2="654.80" stroke="#111" stroke-width="1.4" />
<line x1="63.70" y1="651.40" x2="63.70" y2="657.60" stroke="#111" stroke-width="1.3" />
<line x1="71.40" y1="651.40" x2="71.40" y2="657.60" stroke="#111" stroke-width="1.3" />
<line x1="48.30" y1="654.80" x2="48.30" y2="657.60" stroke="#111" stroke-width="1.2" />
<line x1="85.00" y1="654.80" x2="85.00" y2="657.60" stroke="#111" stroke-width="1.2" />
<line x1="98.60" y1="654.80" x2="98.60" y2="657.60" stroke="#111" stroke-width="1.2" />
<line x1="112.20" y1="654.80" x2="112.20" y2="657.60" stroke="#111" stroke-width="1.2" />
<line x1="125.80" y1="654.80" x2="125.80" y2="657.60" stroke="#111" stroke-width="1.2" />
<line x1="139.40" y1="654.80" x2="139.40" y2="657.60" stroke="#111" stroke-width="1.2" />
<line x1="153.00" y1="654.80" x2="153.00" y2="657.60" stroke="#111" stroke-width="1.2" />
<line x1="166.60" y1="654.80" x2="166.60" y2="657.60" stroke="#111" stroke-width="1.2" />
<line x1="180.20" y1="654.80" x2="180.20" y2="657.60" stroke="#111" stroke-width="1.2" />
<line x1="193.80" y1="654.80" x2="193.80" y2="657.60" stroke="#111" stroke-width="1.2" />
<line x1="207.40" y1="654.80" x2="207.40" y2="657.60" stroke="#111" stroke-width="1.2" />
<line x1="45.30" y1="654.80" x2="48.30" y2="654.80" stroke="#111" stroke-width="1.2" />
<text x="42.00" y="657.60" font-size="8.4" text-anchor="end" fill="#3a3a3a" font-weight="normal" stroke="#3a3a3a" stroke-width="0.05" >0</text>
<line x1="45.30" y1="618.85" x2="48.30" y2="618.85" stroke="#111" stroke-width="1.2" />
<text x="42.00" y="621.65" font-size="8.4" text-anchor="end" fill="#3a3a3a" font-weight="normal" stroke="#3a3a3a" stroke-width="0.05" >50</text>
<line x1="45.30" y1="582.90" x2="48.30" y2="582.90" stroke="#111" stroke-width="1.2" />
<text x="42.00" y="585.70" font-size="8.4" text-anchor="end" fill="#3a3a3a" font-weight="normal" stroke="#3a3a3a" stroke-width="0.05" >100</text>
<line x1="45.30" y1="546.95" x2="48.30" y2="546.95" stroke="#111" stroke-width="1.2" />
<text x="42.00" y="549.75" font-size="8.4" text-anchor="end" fill="#3a3a3a" font-weight="normal" stroke="#3a3a3a" stroke-width="0.05" >150</text>
<text x="48.30" y="667.60" font-size="8.4" text-anchor="middle" fill="#3a3a3a" font-weight="normal" stroke="#3a3a3a" stroke-width="0.05" >0</text>
<text x="63.50" y="667.60" font-size="8.4" text-anchor="middle" fill="#3a3a3a" font-weight="normal" stroke="#3a3a3a" stroke-width="0.05" >8</text>
<text x="72.00" y="667.60" font-size="8.4" text-anchor="middle" fill="#3a3a3a" font-weight="normal" stroke="#3a3a3a" stroke-width="0.05" >10</text>
<text x="85.00" y="667.60" font-size="8.4" text-anchor="middle" fill="#3a3a3a" font-weight="normal" stroke="#3a3a3a" stroke-width="0.05" >12</text>
<text x="98.60" y="667.60" font-size="8.4" text-anchor="middle" fill="#3a3a3a" font-weight="normal" stroke="#3a3a3a" stroke-width="0.05" >14</text>
<text x="112.20" y="667.60" font-size="8.4" text-anchor="middle" fill="#3a3a3a" font-weight="normal" stroke="#3a3a3a" stroke-width="0.05" >16</text>
<text x="125.80" y="667.60" font-size="8.4" text-anchor="middle" fill="#3a3a3a" font-weight="normal" stroke="#3a3a3a" stroke-width="0.05" >18</text>
<text x="139.40" y="667.60" font-size="8.4" text-anchor="middle" fill="#3a3a3a" font-weight="normal" stroke="#3a3a3a" stroke-width="0.05" >20</text>
<text x="153.00" y="667.60" font-size="8.4" text-anchor="middle" fill="#3a3a3a" font-weight="normal" stroke="#3a3a3a" stroke-width="0.05" >22</text>
<text x="166.60" y="667.60" font-size="8.4" text-anchor="middle" fill="#3a3a3a" font-weight="normal" stroke="#3a3a3a" stroke-width="0.05" >24</text>
<text x="180.20" y="667.60" font-size="8.4" text-anchor="middle" fill="#3a3a3a" font-weight="normal" stroke="#3a3a3a" stroke-width="0.05" >26</text>
<text x="193.80" y="667.60" font-size="8.4" text-anchor="middle" fill="#3a3a3a" font-weight="normal" stroke="#3a3a3a" stroke-width="0.05" >28</text>
<text x="207.40" y="667.60" font-size="8.4" text-anchor="middle" fill="#3a3a3a" font-weight="normal" stroke="#3a3a3a" stroke-width="0.05" >30</text>
<text transform="translate(21.90,599.50) rotate(-90)" font-size="7.9" text-anchor="middle" fill="#222" font-weight="normal" textLength="77.5" lengthAdjust="spacingAndGlyphs" stroke="#222" stroke-width="0.28">% tumor-free mice (n=6)</text>
<text x="129.20" y="681.30" font-size="8.6" text-anchor="middle" fill="#222" font-weight="normal" textLength="74" lengthAdjust="spacingAndGlyphs" stroke="#222" stroke-width="0.28" >Days post B16 challenge</text>
<polyline points="71.40,582.90 85.00,582.90 98.60,630.86 112.20,630.86 125.80,630.86 139.40,630.86 153.00,630.86 166.60,642.79 180.20,642.79" fill="none" stroke="#72b04e" stroke-width="1.3" stroke-linejoin="round"/>
<polyline points="71.40,582.90 85.00,582.90 98.60,582.90 112.20,606.84 125.80,606.84 139.40,606.84 153.00,606.84 166.60,630.86 180.20,630.86" fill="none" stroke="#3b2757" stroke-width="1.8" stroke-linejoin="round"/>
<circle cx="85.00" cy="582.90" r="2.45" fill="none" stroke="#72b04e" stroke-width="1.3"/>
<circle cx="98.60" cy="630.86" r="2.45" fill="#fff" stroke="#72b04e" stroke-width="1.3"/>
<circle cx="112.20" cy="630.86" r="2.45" fill="#fff" stroke="#72b04e" stroke-width="1.3"/>
<circle cx="125.80" cy="630.86" r="2.45" fill="#fff" stroke="#72b04e" stroke-width="1.3"/>
<circle cx="139.40" cy="630.86" r="2.45" fill="#fff" stroke="#72b04e" stroke-width="1.3"/>
<circle cx="153.00" cy="630.86" r="2.45" fill="#fff" stroke="#72b04e" stroke-width="1.3"/>
<circle cx="166.60" cy="642.79" r="2.45" fill="#fff" stroke="#72b04e" stroke-width="1.3"/>
<circle cx="180.20" cy="642.79" r="2.45" fill="#fff" stroke="#72b04e" stroke-width="1.3"/>
<path d="M71.40,580.80 L73.50,582.90 L71.40,585.00 L69.30,582.90Z" fill="#3b2757"/>
<path d="M85.00,580.80 L87.10,582.90 L85.00,585.00 L82.90,582.90Z" fill="#3b2757"/>
<path d="M98.60,580.80 L100.70,582.90 L98.60,585.00 L96.50,582.90Z" fill="#3b2757"/>
<path d="M112.20,604.74 L114.30,606.84 L112.20,608.94 L110.10,606.84Z" fill="#3b2757"/>
<path d="M125.80,604.74 L127.90,606.84 L125.80,608.94 L123.70,606.84Z" fill="#3b2757"/>
<path d="M139.40,604.74 L141.50,606.84 L139.40,608.94 L137.30,606.84Z" fill="#3b2757"/>
<path d="M153.00,604.74 L155.10,606.84 L153.00,608.94 L150.90,606.84Z" fill="#3b2757"/>
<path d="M166.60,628.76 L168.70,630.86 L166.60,632.96 L164.50,630.86Z" fill="#3b2757"/>
<path d="M180.20,628.76 L182.30,630.86 L180.20,632.96 L178.10,630.86Z" fill="#3b2757"/>
<circle cx="85.00" cy="582.90" r="2.5" fill="#3a3a32" stroke="none" stroke-width="0"/>
<polyline points="71.40,594.91 85.00,630.86 98.60,642.79 112.20,654.80" fill="none" stroke="#223f72" stroke-width="1.9" stroke-linejoin="round" stroke-dasharray="2.0,1.5"/>
<polyline points="71.40,582.90 85.00,618.85 98.60,618.85 112.20,654.80 125.80,654.80 139.40,654.80 153.00,654.80 166.60,654.80 180.20,654.80" fill="none" stroke="#a0102f" stroke-width="1.9" stroke-linejoin="round" stroke-dasharray="2.0,1.5"/>
<path d="M69.40,596.71 L73.40,596.71 L71.40,593.11Z" fill="#223f72"/>
<path d="M83.00,632.66 L87.00,632.66 L85.00,629.06Z" fill="#223f72"/>
<path d="M96.60,644.59 L100.60,644.59 L98.60,640.99Z" fill="#223f72"/>
<path d="M110.20,656.60 L114.20,656.60 L112.20,653.00Z" fill="#223f72"/>
<line x1="112.20" y1="654.80" x2="180.20" y2="654.80" stroke="#8c0f30" stroke-width="1.7" />
<circle cx="71.40" cy="582.90" r="2.45" fill="#a0102f" stroke="none" stroke-width="0"/>
<circle cx="85.00" cy="618.85" r="2.45" fill="#a0102f" stroke="none" stroke-width="0"/>
<circle cx="98.60" cy="618.85" r="2.45" fill="#a0102f" stroke="none" stroke-width="0"/>
<circle cx="112.20" cy="654.80" r="2.45" fill="#a0102f" stroke="none" stroke-width="0"/>
<circle cx="125.80" cy="654.80" r="2.45" fill="#a0102f" stroke="none" stroke-width="0"/>
<circle cx="139.40" cy="654.80" r="2.45" fill="#a0102f" stroke="none" stroke-width="0"/>
<circle cx="153.00" cy="654.80" r="2.45" fill="#a0102f" stroke="none" stroke-width="0"/>
<circle cx="166.60" cy="654.80" r="2.45" fill="#a0102f" stroke="none" stroke-width="0"/>
<circle cx="180.20" cy="654.80" r="2.45" fill="#a0102f" stroke="none" stroke-width="0"/>
<path d="M187.6,630.4 H190.5 V651.7 H187.6" fill="none" stroke="#222" stroke-width="1.1"/>
<text x="194.30" y="638.50" font-size="6" text-anchor="middle" fill="#333" font-weight="normal" stroke="#333" stroke-width="0.15" >*</text>
<text x="194.30" y="648.00" font-size="7" text-anchor="middle" fill="#333" font-weight="normal" stroke="#333" stroke-width="0.15" >#</text>
<line x1="123" y1="550.4" x2="137.5" y2="550.4" stroke="#a0102f" stroke-width="1.9" stroke-dasharray="2.0,1.5"/>
<circle cx="130.20" cy="550.40" r="2.6" fill="#a0102f" stroke="none" stroke-width="0"/>
<text x="142.20" y="553.30" font-size="8.2" text-anchor="start" fill="#2a2a2a" font-weight="normal" stroke="#2a2a2a" stroke-width="0.15" >PBS solvent control</text>
<line x1="123" y1="562.4" x2="137.5" y2="562.4" stroke="#223f72" stroke-width="1.9" stroke-dasharray="2.0,1.5"/>
<path d="M128.00,564.08 L132.40,564.08 L130.20,560.12Z" fill="#223f72"/>
<text x="142.20" y="565.30" font-size="8.2" text-anchor="start" fill="#2a2a2a" font-weight="normal" stroke="#2a2a2a" stroke-width="0.15" >DC control</text>
<line x1="123" y1="574.4" x2="137.5" y2="574.4" stroke="#72b04e" stroke-width="1.6"/>
<circle cx="130.20" cy="574.40" r="2.5" fill="#fff" stroke="#72b04e" stroke-width="1.3"/>
<text x="142.20" y="577.30" font-size="8.2" text-anchor="start" fill="#2a2a2a" font-weight="normal" stroke="#2a2a2a" stroke-width="0.15" >CTR-DC pulsed with TL</text>
<line x1="123" y1="588.4" x2="137.5" y2="588.4" stroke="#3b2757" stroke-width="1.6"/>
<path d="M130.20,585.90 L132.70,588.40 L130.20,590.90 L127.70,588.40Z" fill="#3b2757"/>
<text x="142.20" y="591.30" font-size="8.2" text-anchor="start" fill="#2a2a2a" font-weight="normal" stroke="#2a2a2a" stroke-width="0.15" >TNP-DC pulsed with TL</text>
<line x1="282.70" y1="542.00" x2="282.70" y2="641.00" stroke="#111" stroke-width="1.4" />
<line x1="282.10" y1="640.40" x2="425.50" y2="640.40" stroke="#111" stroke-width="1.4" />
<line x1="279.70" y1="640.40" x2="282.70" y2="640.40" stroke="#111" stroke-width="1.2" />
<text x="277.50" y="643.20" font-size="8.4" text-anchor="end" fill="#3a3a3a" font-weight="normal" stroke="#3a3a3a" stroke-width="0.05" >0.0</text>
<line x1="279.70" y1="621.15" x2="282.70" y2="621.15" stroke="#111" stroke-width="1.2" />
<text x="277.50" y="623.95" font-size="8.4" text-anchor="end" fill="#3a3a3a" font-weight="normal" stroke="#3a3a3a" stroke-width="0.05" >0.5</text>
<line x1="279.70" y1="601.90" x2="282.70" y2="601.90" stroke="#111" stroke-width="1.2" />
<text x="277.50" y="604.70" font-size="8.4" text-anchor="end" fill="#3a3a3a" font-weight="normal" stroke="#3a3a3a" stroke-width="0.05" >1.0</text>
<line x1="279.70" y1="582.65" x2="282.70" y2="582.65" stroke="#111" stroke-width="1.2" />
<text x="277.50" y="585.45" font-size="8.4" text-anchor="end" fill="#3a3a3a" font-weight="normal" stroke="#3a3a3a" stroke-width="0.05" >1.5</text>
<line x1="279.70" y1="563.40" x2="282.70" y2="563.40" stroke="#111" stroke-width="1.2" />
<text x="277.50" y="566.20" font-size="8.4" text-anchor="end" fill="#3a3a3a" font-weight="normal" stroke="#3a3a3a" stroke-width="0.05" >2.0</text>
<line x1="279.70" y1="544.15" x2="282.70" y2="544.15" stroke="#111" stroke-width="1.2" />
<text x="277.50" y="546.95" font-size="8.4" text-anchor="end" fill="#3a3a3a" font-weight="normal" stroke="#3a3a3a" stroke-width="0.05" >2.5</text>
<text transform="translate(258.60,593.90) rotate(-90)" font-size="7.6" text-anchor="middle" fill="#222" font-weight="normal" textLength="45" lengthAdjust="spacingAndGlyphs" stroke="#222" stroke-width="0.28">Tumor weight (g)</text>
<line x1="300.60" y1="574.18" x2="300.60" y2="587.27" stroke="#222" stroke-width="1.3" />
<line x1="294.60" y1="574.18" x2="306.60" y2="574.18" stroke="#222" stroke-width="1.3" />
<rect x="288.10" y="587.27" width="25" height="53.13" fill="#b0082e"/>
<line x1="300.60" y1="640.40" x2="300.60" y2="643.40" stroke="#111" stroke-width="1.2" />
<line x1="336.50" y1="560.32" x2="336.50" y2="574.18" stroke="#222" stroke-width="1.3" />
<line x1="330.50" y1="560.32" x2="342.50" y2="560.32" stroke="#222" stroke-width="1.3" />
<rect x="324.00" y="574.18" width="25" height="66.22" fill="#2f4c84"/>
<line x1="336.50" y1="640.40" x2="336.50" y2="643.40" stroke="#111" stroke-width="1.2" />
<line x1="372.40" y1="607.29" x2="372.40" y2="618.45" stroke="#222" stroke-width="1.3" />
<line x1="366.40" y1="607.29" x2="378.40" y2="607.29" stroke="#222" stroke-width="1.3" />
<rect x="359.90" y="618.45" width="25" height="21.95" fill="#6aa843"/>
<line x1="372.40" y1="640.40" x2="372.40" y2="643.40" stroke="#111" stroke-width="1.2" />
<line x1="408.00" y1="630.77" x2="408.00" y2="633.86" stroke="#222" stroke-width="1.3" />
<line x1="402.00" y1="630.77" x2="414.00" y2="630.77" stroke="#222" stroke-width="1.3" />
<rect x="395.50" y="633.86" width="25" height="6.54" fill="#5a2568"/>
<line x1="408.00" y1="640.40" x2="408.00" y2="643.40" stroke="#111" stroke-width="1.2" />
<path d="M300.30,547.20 V542.80 H404.30 V547.20" fill="none" stroke="#222" stroke-width="1.25"/>
<text x="352.60" y="542.40" font-size="6.5" text-anchor="middle" fill="#333" font-weight="normal" stroke="#333" stroke-width="0.3" >*</text>
<path d="M336.50,557.60 V553.20 H404.30 V557.60" fill="none" stroke="#222" stroke-width="1.25"/>
<text x="370.40" y="552.80" font-size="6.5" text-anchor="middle" fill="#333" font-weight="normal" stroke="#333" stroke-width="0.3" >**</text>
<text transform="translate(302.20,651.60) rotate(-45)" font-size="8.1" text-anchor="end" fill="#222" font-weight="normal" stroke="#222" stroke-width="0.15">PBS solvent control</text>
<text transform="translate(338.10,651.60) rotate(-45)" font-size="8.1" text-anchor="end" fill="#222" font-weight="normal" stroke="#222" stroke-width="0.15">DC control</text>
<text transform="translate(374.00,651.60) rotate(-45)" font-size="8.1" text-anchor="end" fill="#222" font-weight="normal" stroke="#222" stroke-width="0.15">CTR-DC pulsed with TL</text>
<text transform="translate(409.60,651.60) rotate(-45)" font-size="8.1" text-anchor="end" fill="#222" font-weight="normal" stroke="#222" stroke-width="0.15">TNP-DC pulsed with TL</text>
</g></svg>
</body></html>
